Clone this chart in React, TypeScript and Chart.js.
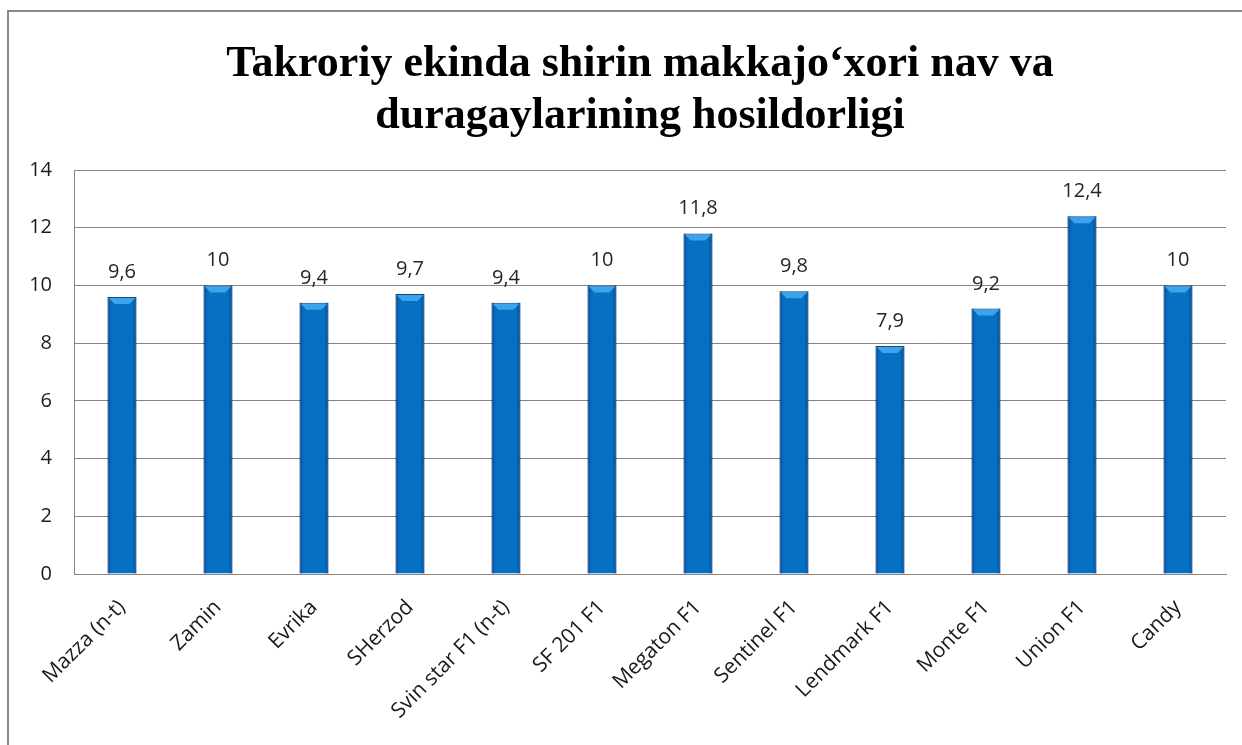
import React, { useEffect, useRef } from "react";
import { Chart, registerables } from "chart.js";

Chart.register(...registerables);

const titleLines = ["Takroriy ekinda shirin makkajo‘xori nav va", "duragaylarining hosildorligi"];
const categories = [
  "Mazza (n-t)",
  "Zamin",
  "Evrika",
  "SHerzod",
  "Svin star F1 (n-t)",
  "SF 201 F1",
  "Megaton F1",
  "Sentinel F1",
  "Lendmark F1",
  "Monte F1",
  "Union F1",
  "Candy",
];
const yields = [9.6, 10, 9.4, 9.7, 9.4, 10, 11.8, 9.8, 7.9, 9.2, 12.4, 10];
const yMin = 0;
const yMax = 14;
const yStep = 2;

const fmt = (v: number) => String(v).replace(".", ",");

const titlePlugin = {
  id: "centeredTitle",
  afterDraw(chart: any) {
    const ctx = chart.ctx;
    ctx.save();
    ctx.fillStyle = "#000";
    ctx.font = 'bold 44px "Liberation Serif"';
    ctx.textAlign = "center";
    ctx.textBaseline = "middle";
    titleLines.forEach((line, i) => {
      ctx.fillText(line, 631, 53 + i * 52);
    });
    ctx.restore();
  },
};

const barDecor = {
  id: "barDecor",
  afterDatasetsDraw(chart: any) {
    const ctx = chart.ctx;
    const meta = chart.getDatasetMeta(0);
    meta.data.forEach((bar: any, i: number) => {
      const { x, y, width, base } = bar.getProps(["x", "y", "width", "base"], true);
      const left = x - width / 2;
      const right = x + width / 2;
      ctx.save();
      const g = ctx.createLinearGradient(left, 0, right, 0);
      g.addColorStop(0, "rgba(0,40,90,0.45)");
      g.addColorStop(0.15, "rgba(0,40,90,0.0)");
      g.addColorStop(0.85, "rgba(0,40,90,0.0)");
      g.addColorStop(1, "rgba(0,40,90,0.45)");
      ctx.fillStyle = g;
      ctx.fillRect(left, y, width, base - y);
      ctx.beginPath();
      ctx.moveTo(left + 1, y + 1);
      ctx.lineTo(right - 1, y + 1);
      ctx.lineTo(right - 7, y + 7);
      ctx.lineTo(left + 7, y + 7);
      ctx.closePath();
      ctx.fillStyle = "#3DA3EC";
      ctx.fill();
      ctx.fillStyle = "#262626";
      ctx.font = '20px "Open Sans"';
      ctx.textAlign = "center";
      ctx.textBaseline = "alphabetic";
      ctx.fillText(fmt(yields[i]), x, y - 19);
      ctx.restore();
    });
  },
};

export default function App() {
  const ref = useRef<HTMLCanvasElement>(null);
  useEffect(() => {
    document.documentElement.style.overflow = "hidden";
    document.body.style.overflow = "hidden";
    const chart = new Chart(ref.current as HTMLCanvasElement, {
      type: "bar",
      data: {
        labels: categories,
        datasets: [
          {
            data: yields,
            backgroundColor: "#0770C2",
            borderColor: "#0B4A86",
            borderWidth: 1,
            barPercentage: 0.3,
            categoryPercentage: 1,
          },
        ],
      },
      options: {
        animation: false,
        responsive: false,
        maintainAspectRatio: false,
        layout: { padding: { right: 45, left: 0, top: 158, bottom: 0 } },
        plugins: {
          legend: { display: false },
          tooltip: { enabled: false },
          title: { display: false },
        },
        scales: {
          x: {
            grid: { display: false, drawTicks: false },
            border: { display: true, color: "#868686", width: 1 },
            ticks: {
              minRotation: 45,
              maxRotation: 45,
              color: "#1a1a1a",
              font: { family: '"Open Sans"', size: 21 },
              padding: 21,
            },
            afterFit(scale: any) {
              scale.height = 171;
            },
          },
          y: {
            min: yMin,
            max: yMax,
            grid: { color: "#868686", lineWidth: 1, drawTicks: false },
            border: { display: true, color: "#868686", width: 1 },
            ticks: {
              stepSize: yStep,
              color: "#1a1a1a",
              font: { family: '"Open Sans"', size: 20 },
              padding: 22,
            },
            afterFit(scale: any) {
              scale.width = 65;
            },
          },
        },
      },
      plugins: [barDecor, titlePlugin],
    });
    return () => chart.destroy();
  }, []);
  return (
    <div
      style={{
        position: "absolute",
        left: 7,
        top: 10,
        width: 1300,
        height: 800,
        borderTop: "2px solid #8a8a8a",
        borderLeft: "2px solid #8a8a8a",
        background: "#fff",
      }}
    >
      <canvas ref={ref} width={1262} height={733} style={{ display: "block", width: 1262, height: 733 }} />
    </div>
  );
}
